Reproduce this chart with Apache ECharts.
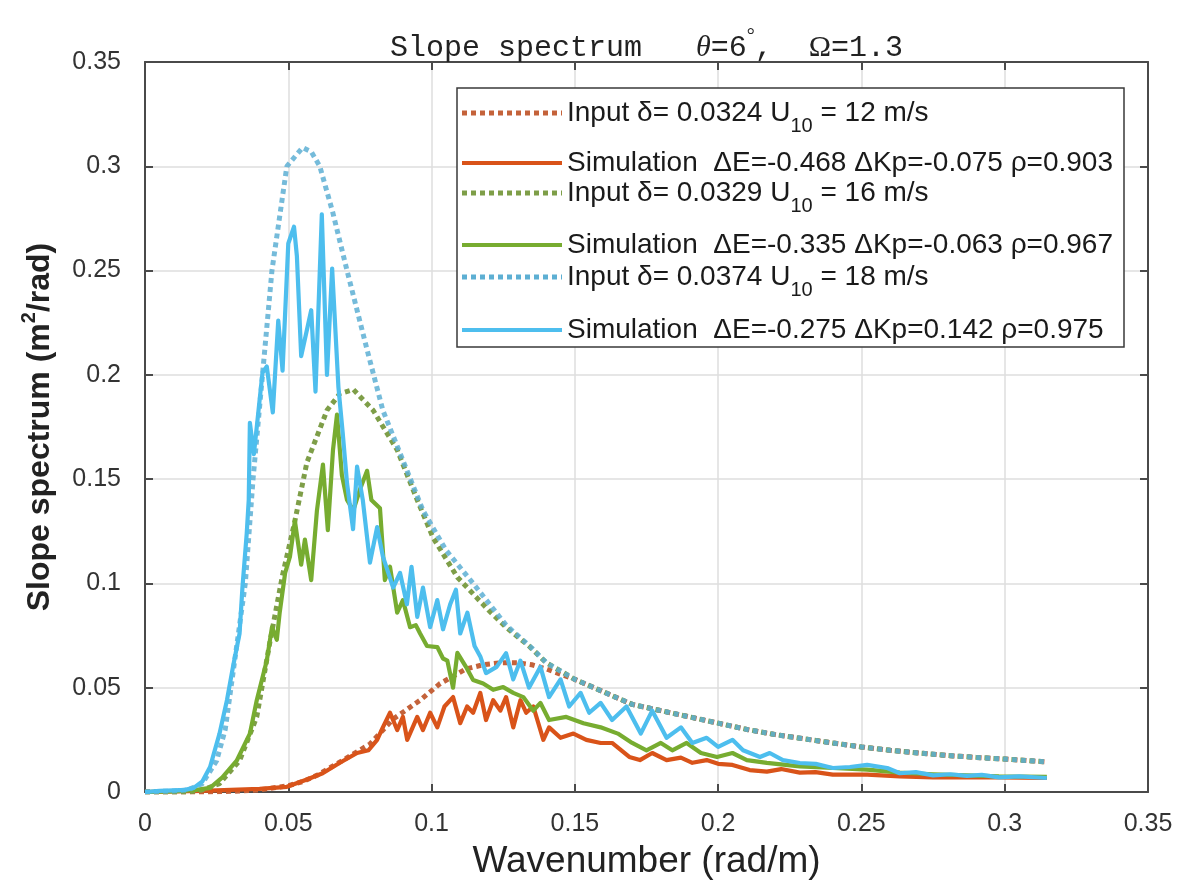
<!DOCTYPE html>
<html><head><meta charset="utf-8">
<script src="https://cdn.jsdelivr.net/npm/echarts@6/dist/echarts.min.js"></script>
<style>html,body{margin:0;padding:0;background:#fff}#c{width:1183px;height:880px}</style>
</head><body><div id="c"></div>
<script>
// ---- data ----
const inputOrange = [[0,0],[0.02,0],[0.03,0.0003],[0.04,0.001],[0.05,0.003],[0.055,0.005],[0.06,0.008],[0.065,0.012],[0.07,0.016],[0.0785,0.023],[0.0866,0.035],[0.096,0.044],[0.103,0.052],[0.112,0.059],[0.118,0.061],[0.124,0.062],[0.13,0.062],[0.135,0.061],[0.14,0.059],[0.15,0.054],[0.16,0.048],[0.17,0.042],[0.18,0.039],[0.19,0.036],[0.2,0.033],[0.21,0.030],[0.22,0.0275],[0.23,0.0255],[0.24,0.0235],[0.25,0.0216],[0.26,0.020],[0.27,0.0187],[0.28,0.0175],[0.29,0.0166],[0.3,0.0158],[0.314,0.0145]];
const simOrange = [[0,0],[0.02,0.0005],[0.03,0.001],[0.04,0.0015],[0.0495,0.0025],[0.0565,0.006],[0.062,0.009],[0.068,0.014],[0.074,0.0187],[0.078,0.020],[0.081,0.025],[0.083,0.031],[0.0855,0.038],[0.088,0.0297],[0.09,0.036],[0.0915,0.025],[0.095,0.036],[0.097,0.0297],[0.0995,0.038],[0.102,0.031],[0.1045,0.041],[0.1075,0.0455],[0.11,0.033],[0.1124,0.041],[0.1145,0.038],[0.117,0.0475],[0.119,0.0345],[0.1215,0.044],[0.124,0.039],[0.126,0.0455],[0.1285,0.031],[0.131,0.044],[0.133,0.038],[0.1355,0.041],[0.139,0.025],[0.141,0.031],[0.145,0.026],[0.1495,0.028],[0.154,0.025],[0.159,0.0235],[0.163,0.0235],[0.169,0.0168],[0.1727,0.0153],[0.177,0.0187],[0.182,0.0153],[0.187,0.0165],[0.191,0.014],[0.196,0.0153],[0.2,0.0135],[0.205,0.013],[0.211,0.0105],[0.217,0.0098],[0.222,0.011],[0.2285,0.0093],[0.234,0.0095],[0.24,0.0083],[0.252,0.0083],[0.2634,0.0075],[0.275,0.007],[0.2868,0.007],[0.298,0.007],[0.3147,0.0068]];
const inputGreen = [[0,0],[0.015,0],[0.02,0.001],[0.026,0.004],[0.033,0.015],[0.039,0.036],[0.0436,0.072],[0.048,0.104],[0.052,0.128],[0.0565,0.158],[0.0635,0.183],[0.068,0.191],[0.0727,0.193],[0.0796,0.183],[0.088,0.164],[0.095,0.14],[0.1005,0.122],[0.109,0.103],[0.12,0.087],[0.126,0.079],[0.134,0.07],[0.14,0.062],[0.15,0.054],[0.16,0.048],[0.17,0.042],[0.18,0.039],[0.19,0.036],[0.2,0.033],[0.21,0.030],[0.22,0.0275],[0.23,0.0255],[0.24,0.0235],[0.25,0.0216],[0.26,0.020],[0.27,0.0187],[0.28,0.0175],[0.29,0.0166],[0.3,0.0158],[0.314,0.0145]];
const simGreen = [[0,0],[0.01,0.0003],[0.018,0.001],[0.0227,0.002],[0.027,0.007],[0.032,0.015],[0.0366,0.028],[0.039,0.044],[0.0425,0.063],[0.0443,0.079],[0.046,0.073],[0.047,0.086],[0.0489,0.105],[0.0506,0.113],[0.0523,0.13],[0.0545,0.109],[0.0558,0.121],[0.058,0.1016],[0.06,0.135],[0.0621,0.157],[0.0638,0.1256],[0.0656,0.164],[0.067,0.181],[0.0687,0.152],[0.0705,0.14],[0.0727,0.135],[0.075,0.145],[0.0775,0.154],[0.079,0.14],[0.082,0.136],[0.0837,0.1016],[0.0855,0.108],[0.088,0.086],[0.09,0.092],[0.0925,0.079],[0.0945,0.08],[0.096,0.076],[0.0984,0.07],[0.102,0.0695],[0.104,0.064],[0.1055,0.063],[0.1075,0.05],[0.109,0.0667],[0.112,0.06],[0.1145,0.0537],[0.118,0.052],[0.1215,0.049],[0.125,0.0503],[0.1285,0.0475],[0.132,0.0455],[0.1355,0.039],[0.138,0.0427],[0.141,0.0345],[0.147,0.036],[0.153,0.033],[0.159,0.031],[0.165,0.028],[0.17,0.0235],[0.175,0.02],[0.18,0.0235],[0.184,0.02],[0.189,0.0235],[0.194,0.0187],[0.1996,0.0168],[0.205,0.0187],[0.21,0.0153],[0.217,0.014],[0.2285,0.0123],[0.24,0.0115],[0.252,0.0107],[0.2634,0.0093],[0.275,0.0085],[0.2868,0.008],[0.298,0.0075],[0.3147,0.0073]];
const inputBlue = [[0,0],[0.01,0.0005],[0.015,0.001],[0.02,0.004],[0.025,0.015],[0.028,0.03],[0.03,0.05],[0.0325,0.075],[0.035,0.1],[0.0377,0.15],[0.041,0.2],[0.0443,0.25],[0.0495,0.3],[0.055,0.309],[0.058,0.307],[0.061,0.3],[0.0655,0.278],[0.0705,0.25],[0.0775,0.212],[0.083,0.183],[0.09,0.159],[0.097,0.135],[0.105,0.116],[0.1145,0.1],[0.126,0.08],[0.135,0.069],[0.14,0.062],[0.15,0.054],[0.16,0.048],[0.17,0.042],[0.18,0.039],[0.19,0.036],[0.2,0.033],[0.21,0.030],[0.22,0.0275],[0.23,0.0255],[0.24,0.0235],[0.25,0.0216],[0.26,0.020],[0.27,0.0187],[0.28,0.0175],[0.29,0.0166],[0.3,0.0158],[0.314,0.0145]];
const simBlue = [[0,0],[0.005,0.0005],[0.010,0.0008],[0.014,0.001],[0.017,0.002],[0.020,0.005],[0.0227,0.012],[0.026,0.028],[0.0286,0.044],[0.0307,0.06],[0.033,0.076],[0.034,0.098],[0.0355,0.124],[0.0362,0.14],[0.0366,0.177],[0.038,0.162],[0.041,0.201],[0.0425,0.204],[0.0446,0.182],[0.0465,0.226],[0.048,0.202],[0.050,0.263],[0.052,0.271],[0.053,0.257],[0.0545,0.209],[0.058,0.231],[0.0595,0.192],[0.0617,0.277],[0.0635,0.200],[0.0653,0.251],[0.0675,0.194],[0.069,0.172],[0.0705,0.148],[0.0726,0.126],[0.074,0.156],[0.076,0.140],[0.0785,0.110],[0.081,0.127],[0.083,0.113],[0.0866,0.098],[0.089,0.105],[0.0914,0.090],[0.093,0.108],[0.095,0.084],[0.097,0.098],[0.0995,0.079],[0.102,0.092],[0.104,0.078],[0.1065,0.090],[0.1085,0.097],[0.110,0.076],[0.1125,0.086],[0.115,0.070],[0.117,0.065],[0.119,0.057],[0.1227,0.060],[0.126,0.0665],[0.1285,0.054],[0.131,0.063],[0.134,0.050],[0.138,0.060],[0.141,0.0455],[0.145,0.054],[0.148,0.041],[0.152,0.0475],[0.155,0.038],[0.159,0.0427],[0.163,0.0345],[0.168,0.041],[0.173,0.028],[0.177,0.039],[0.182,0.026],[0.187,0.031],[0.191,0.0235],[0.196,0.026],[0.200,0.0216],[0.205,0.025],[0.2087,0.020],[0.2146,0.0168],[0.218,0.0187],[0.2226,0.0153],[0.2285,0.0139],[0.234,0.0135],[0.240,0.0115],[0.246,0.012],[0.252,0.013],[0.259,0.0115],[0.2634,0.009],[0.269,0.0095],[0.275,0.008],[0.281,0.0085],[0.2868,0.0077],[0.292,0.0082],[0.298,0.007],[0.305,0.0075],[0.3147,0.0067]];

const seriesNames = [
  'Input δ= 0.0324 U10 = 12 m/s',
  'Simulation  ΔE=-0.468 ΔKp=-0.075 ρ=0.903',
  'Input δ= 0.0329 U10 = 16 m/s',
  'Simulation  ΔE=-0.335 ΔKp=-0.063 ρ=0.967',
  'Input δ= 0.0374 U10 = 18 m/s',
  'Simulation  ΔE=-0.275 ΔKp=0.142 ρ=0.975'
];
const legendRich = [
  '{n|Input δ= 0.0324 U}{s|10}{n| = 12 m/s}',
  '{n|Simulation  ΔE=-0.468 ΔKp=-0.075 ρ=0.903}',
  '{n|Input δ= 0.0329 U}{s|10}{n| = 16 m/s}',
  '{n|Simulation  ΔE=-0.335 ΔKp=-0.063 ρ=0.967}',
  '{n|Input δ= 0.0374 U}{s|10}{n| = 18 m/s}',
  '{n|Simulation  ΔE=-0.275 ΔKp=0.142 ρ=0.975}'
];
const seriesData = [inputOrange, simOrange, inputGreen, simGreen, inputBlue, simBlue];
const colors = ['#C4623A', '#D95319', '#7E9E48', '#77AC30', '#5DAFD3', '#4DBEEE'];
const dotted = [true, false, true, false, true, false];

const SANS = "'Liberation Sans', Arial, Helvetica, sans-serif";
const MONO = "'Liberation Mono', 'DejaVu Sans Mono', monospace";
const SERIF = "'Liberation Serif', 'Times New Roman', serif";
const fmt = v => String(+v.toFixed(2));

const chart = echarts.init(document.getElementById('c'));
const legendRows = [113, 163, 193, 245, 277, 330];
const graphics = [{
  type: 'rect', shape: {x: 457, y: 88, width: 667, height: 259},
  style: {fill: '#fff', stroke: '#3a3a3a', lineWidth: 1.5}, z: 100
}];
legendRich.forEach((t, i) => {
  graphics.push({
    type: 'line', shape: {x1: 462, y1: legendRows[i], x2: 562, y2: legendRows[i]},
    style: {stroke: colors[i], lineWidth: dotted[i] ? 5 : 4, lineDash: dotted[i] ? [5, 4] : null}, z: 101
  });
  graphics.push({
    type: 'text', x: 567, y: legendRows[i], z: 101,
    style: {
      text: t, fill: '#1a1a1a', verticalAlign: 'middle', align: 'left',
      rich: {
        n: {fontSize: 28, fontFamily: SANS, fill: '#1a1a1a'},
        s: {fontSize: 20, fontFamily: SANS, fill: '#1a1a1a', padding: [26, 0, 0, 0]}
      }
    }
  });
});

const option = {
  animation: false,
  backgroundColor: '#fff',
  title: {
    text: '{a|Slope spectrum}{a|   }{th|θ}{a|=6}{deg|°}{a|,  }{om|Ω}{a|=1.3}',
    left: 385, top: 22,
    textStyle: {
      fontWeight: 'normal',
      rich: {
        a: {fontFamily: MONO, fontSize: 30, fontWeight: 'normal', color: '#222'},
        th: {fontFamily: SERIF, fontStyle: 'italic', fontWeight: 'normal', fontSize: 30, color: '#222'},
        deg: {fontFamily: SERIF, fontSize: 20, fontWeight: 'normal', color: '#222', padding: [0, 0, 22, 0]},
        om: {fontFamily: SERIF, fontSize: 30, fontWeight: 'normal', color: '#222'}
      }
    }
  },
  grid: {left: 145, right: 35, top: 62, bottom: 88, containLabel: false, outerBoundsMode: 'none'},
  xAxis: [{
    type: 'value', min: 0, max: 0.35, interval: 0.05,
    name: 'Wavenumber (rad/m)', nameLocation: 'middle', nameGap: 51,
    nameTextStyle: {fontFamily: SANS, fontSize: 37, color: '#222'},
    axisLine: {show: true, onZero: false, lineStyle: {color: '#4a4a4a', width: 2}},
    axisTick: {show: true, inside: true, length: 8, lineStyle: {color: '#4a4a4a', width: 2}},
    axisLabel: {fontFamily: SANS, fontSize: 25, color: '#333', margin: 20, formatter: fmt},
    splitLine: {show: true, lineStyle: {color: '#dedede', width: 1.5}}
  }, {
    type: 'value', min: 0, max: 0.35, interval: 0.05, position: 'top',
    axisLine: {show: true, onZero: false, lineStyle: {color: '#4a4a4a', width: 2}},
    axisTick: {show: true, inside: true, length: 8, lineStyle: {color: '#4a4a4a', width: 2}},
    axisLabel: {show: false}, splitLine: {show: false}
  }],
  yAxis: [{
    type: 'value', min: 0, max: 0.35, interval: 0.05,
    name: '{b|Slope spectrum (m}{sup|2}{b|/rad)}', nameLocation: 'middle', nameGap: 84, nameRotate: 90,
    nameTextStyle: {
      rich: {
        b: {fontFamily: SANS, fontSize: 32, fontWeight: 'bold', color: '#222'},
        sup: {fontFamily: SANS, fontSize: 20, fontWeight: 'bold', color: '#222', padding: [0, 0, 22, 0]}
      }
    },
    axisLine: {show: true, onZero: false, lineStyle: {color: '#4a4a4a', width: 2}},
    axisTick: {show: true, inside: true, length: 8, lineStyle: {color: '#4a4a4a', width: 2}},
    axisLabel: {fontFamily: SANS, fontSize: 25, color: '#333', margin: 24, formatter: fmt},
    splitLine: {show: true, lineStyle: {color: '#dedede', width: 1.5}}
  }, {
    type: 'value', min: 0, max: 0.35, interval: 0.05, position: 'right',
    axisLine: {show: true, onZero: false, lineStyle: {color: '#4a4a4a', width: 2}},
    axisTick: {show: true, inside: true, length: 8, lineStyle: {color: '#4a4a4a', width: 2}},
    axisLabel: {show: false}, splitLine: {show: false}
  }],
  series: seriesData.map((d, i) => ({
    name: seriesNames[i], type: 'line', data: d, showSymbol: false, symbol: 'none',
    xAxisIndex: 0, yAxisIndex: 0, z: 2 + i,
    lineStyle: dotted[i]
      ? {color: colors[i], width: 5, type: [5, 4], cap: 'butt', opacity: i === 4 ? 0.85 : 1}
      : {color: colors[i], width: 4.2, join: 'round'}
  })),
  graphic: graphics
};
chart.setOption(option);
</script></body></html>
